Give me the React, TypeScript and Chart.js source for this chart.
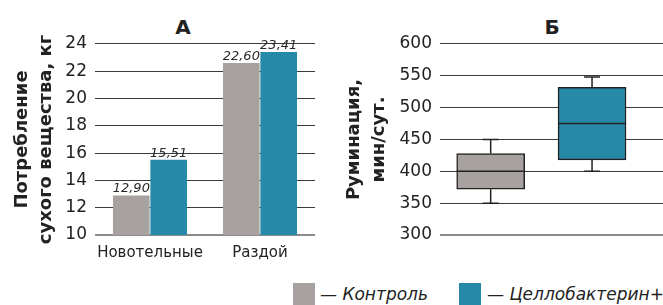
import React, { useEffect, useRef } from "react";
import { Chart, registerables } from "chart.js";

Chart.register(...registerables);

// ---- Data: panel A (dry matter intake, kg) ----
const categories = ["Новотельные", "Раздой"];
const controlIntake = [12.9, 22.6];
const cellobacterinIntake = [15.51, 23.41];
const intakeRange = [10, 24];
const intakeStep = 2;

// ---- Data: panel Б (rumination, min/day) boxplot ----
const groups = ["Контроль", "Целлобактерин+"];
const groupPos = [1, 2];
const boxMin = [350, 400];
const boxQ1 = [372, 418];
const boxMedian = [400, 475];
const boxQ3 = [428, 532];
const boxMax = [450, 548];
const ruminationRange = [300, 600];
const ruminationStep = 50;

const GRAY = "#a7a29f";
const BLUE = "#2789a8";
const FONT = "'DejaVu Sans', sans-serif";

const gridColor = (min: number) => (ctx: any) =>
  ctx.tick && ctx.tick.value === min ? "#8c8c8c" : "#3a3a3a";
const gridWidth = (min: number) => (ctx: any) =>
  ctx.tick && ctx.tick.value === min ? 2 : 1.1;

const valueLabels = {
  id: "valueLabels",
  afterDatasetsDraw(chart: any) {
    const ctx = chart.ctx;
    ctx.save();
    ctx.font = `italic 13px ${FONT}`;
    ctx.fillStyle = "#2a2a2a";
    ctx.textAlign = "center";
    ctx.textBaseline = "alphabetic";
    chart.data.datasets.forEach((ds: any, di: number) => {
      const meta = chart.getDatasetMeta(di);
      meta.data.forEach((el: any, i: number) => {
        const t = Number(ds.data[i]).toFixed(2).replace(".", ",");
        ctx.fillText(t, el.x, el.y - 3);
      });
    });
    ctx.restore();
  },
};

const whiskers = {
  id: "whiskers",
  afterDatasetsDraw(chart: any) {
    const ctx = chart.ctx;
    const y = chart.scales.y;
    const meta = chart.getDatasetMeta(0);
    ctx.save();
    ctx.strokeStyle = "#222";
    ctx.lineWidth = 1.5;
    meta.data.forEach((el: any, i: number) => {
      const x = el.x;
      const w = el.width;
      const cap = 8;
      const pMin = y.getPixelForValue(boxMin[i]);
      const pMax = y.getPixelForValue(boxMax[i]);
      const pQ1 = y.getPixelForValue(boxQ1[i]);
      const pQ3 = y.getPixelForValue(boxQ3[i]);
      const pMed = y.getPixelForValue(boxMedian[i]);
      ctx.beginPath();
      ctx.moveTo(x, pQ3);
      ctx.lineTo(x, pMax);
      ctx.moveTo(x - cap, pMax);
      ctx.lineTo(x + cap, pMax);
      ctx.moveTo(x, pQ1);
      ctx.lineTo(x, pMin);
      ctx.moveTo(x - cap, pMin);
      ctx.lineTo(x + cap, pMin);
      ctx.moveTo(x - w / 2, pMed);
      ctx.lineTo(x + w / 2, pMed);
      ctx.stroke();
    });
    ctx.restore();
  },
};

export default function App() {
  const leftRef = useRef<HTMLCanvasElement>(null);
  const rightRef = useRef<HTMLCanvasElement>(null);

  useEffect(() => {
    const left = new Chart(leftRef.current as HTMLCanvasElement, {
      type: "bar",
      data: {
        labels: categories,
        datasets: [
          { label: "Контроль", data: controlIntake, backgroundColor: GRAY, borderWidth: 0 },
          { label: "Целлобактерин+", data: cellobacterinIntake, backgroundColor: BLUE, borderWidth: 0 },
        ],
      },
      options: {
        responsive: false,
        animation: false,
        devicePixelRatio: 1,
        layout: { padding: { top: 44, left: 0, right: 0, bottom: 0 } },
        datasets: { bar: { categoryPercentage: 0.68, barPercentage: 0.98 } },
        plugins: { legend: { display: false }, tooltip: { enabled: false } },
        scales: {
          x: {
            grid: { display: false, drawTicks: false },
            border: { display: false },
            ticks: {
              color: "#222",
              font: { family: FONT, size: 15 },
              padding: 9,
              maxRotation: 0,
              minRotation: 0,
              autoSkip: false,
            },
            afterFit: (s: any) => {
              s.height = 30;
            },
          },
          y: {
            min: intakeRange[0],
            max: intakeRange[1],
            border: { display: false },
            grid: {
              drawTicks: false,
              color: gridColor(intakeRange[0]),
              lineWidth: gridWidth(intakeRange[0]),
            },
            ticks: {
              stepSize: intakeStep,
              color: "#222",
              font: { family: FONT, size: 17 },
              padding: 8,
            },
            title: {
              display: true,
              text: ["Потребление", "сухого вещества, кг"],
              color: "#222",
              font: { family: FONT, size: 18, weight: "bold", lineHeight: 1.35 },
              padding: { top: 10, bottom: 0 },
            },
            afterFit: (s: any) => {
              s.width = 95;
            },
          },
        },
      },
      plugins: [valueLabels],
    } as any);

    const right = new Chart(rightRef.current as HTMLCanvasElement, {
      type: "bar",
      data: {
        datasets: [
          {
            label: "Руминация",
            data: groups.map((_, i) => ({ x: groupPos[i], y: [boxQ1[i], boxQ3[i]] })),
            backgroundColor: [GRAY, BLUE],
            borderColor: "#222",
            borderWidth: 1.5,
            borderSkipped: false,
            barThickness: 68,
          },
        ],
      },
      options: {
        responsive: false,
        animation: false,
        devicePixelRatio: 1,
        layout: { padding: { top: 44, left: 0, right: 0, bottom: 30 } },
        plugins: { legend: { display: false }, tooltip: { enabled: false } },
        scales: {
          x: { type: "linear", min: 0.5, max: 2.7, offset: false, display: false },
          y: {
            min: ruminationRange[0],
            max: ruminationRange[1],
            border: { display: false },
            grid: {
              drawTicks: false,
              color: gridColor(ruminationRange[0]),
              lineWidth: gridWidth(ruminationRange[0]),
            },
            ticks: {
              stepSize: ruminationStep,
              color: "#222",
              font: { family: FONT, size: 17 },
              padding: 8,
            },
            title: {
              display: true,
              text: ["Руминация,", "мин/сут."],
              color: "#222",
              font: { family: FONT, size: 18, weight: "bold", lineHeight: 1.4 },
              padding: { top: 12, bottom: 0 },
            },
            afterFit: (s: any) => {
              s.width = 110;
            },
          },
        },
      },
      plugins: [whiskers],
    } as any);

    return () => {
      left.destroy();
      right.destroy();
    };
  }, []);

  const titleStyle: React.CSSProperties = {
    position: "absolute",
    top: 14,
    fontFamily: FONT,
    fontWeight: "bold",
    fontSize: 20,
    color: "#222",
    lineHeight: "26px",
    transform: "translateX(-50%)",
  };
  const legendText: React.CSSProperties = {
    position: "absolute",
    top: 282,
    fontFamily: FONT,
    fontStyle: "italic",
    fontSize: 17,
    color: "#222",
    lineHeight: "24px",
    whiteSpace: "nowrap",
  };
  const swatch = (left: number, color: string): React.CSSProperties => ({
    position: "absolute",
    left,
    top: 283,
    width: 22,
    height: 22,
    background: color,
  });

  return (
    <div style={{ position: "fixed", left: 0, top: 0, width: 663, height: 305, background: "#fff", overflow: "hidden" }}>
      <div style={{ ...titleStyle, left: 183 }}>А</div>
      <div style={{ ...titleStyle, left: 552 }}>Б</div>
      <canvas ref={leftRef} width={315} height={265} style={{ position: "absolute", left: 0, top: 0 }} />
      <canvas ref={rightRef} width={333} height={265} style={{ position: "absolute", left: 330, top: 0 }} />
      <div style={swatch(293, GRAY)} />
      <div style={{ ...legendText, left: 320 }}>— Контроль</div>
      <div style={swatch(459, BLUE)} />
      <div style={{ ...legendText, left: 487 }}>— Целлобактерин+</div>
    </div>
  );
}
